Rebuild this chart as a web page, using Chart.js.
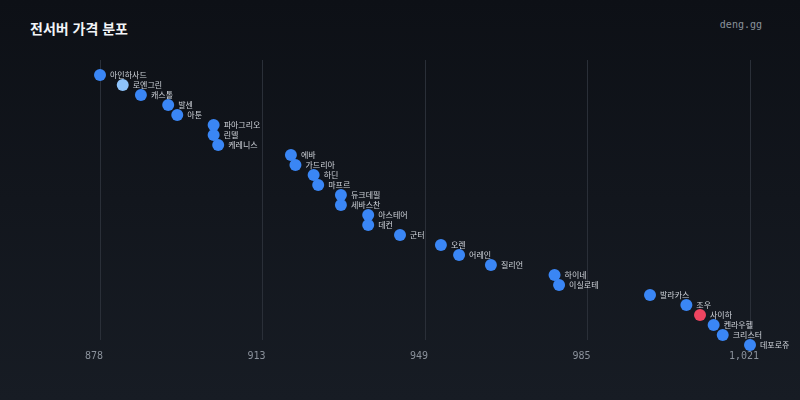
<!DOCTYPE html>
<html lang="ko">
<head>
<meta charset="utf-8">
<script src="https://cdn.jsdelivr.net/npm/chart.js@4"></script>
<style>
  html, body { margin: 0; padding: 0; }
  body {
    width: 800px; height: 400px; overflow: hidden; position: relative;
    background: linear-gradient(180deg, #0d1016 0%, #171c24 100%);
  }
  .titulo {
    position: absolute; left: 30px; top: 18px;
    font: bold 14px "Noto Sans CJK KR", "Noto Sans", sans-serif;
    color: #f2f4f7;
  }
  .marca {
    position: absolute; right: 38px; top: 19px;
    font: 10px "DejaVu Sans Mono", monospace;
    color: #8a919b;
  }
  #grafico { position: absolute; left: 0; top: 0; }
</style>
</head>
<body>
<div class="titulo">전서버 가격 분포</div>
<div class="marca">deng.gg</div>
<canvas id="grafico" width="800" height="400"></canvas>

<script>
// Servidores (de cima pra baixo) e preço
const servidores = ['아인하사드','로엔그린','캐스톨','발센','아툰','파아그리오','린델','케레니스',
                    '에바','가드리아','하딘','마프르','듀크데필','세바스찬','아스테어','데컨',
                    '군터','오렌','어레인','질리언','하이네','이실로테','발라카스','조우',
                    '사이하','켄라우헬','크리스터','데포로쥬'];
const precos     = [878, 883, 887, 893, 895, 903, 903, 904,
                    920, 921, 925, 926, 931, 931, 937, 937,
                    944, 953, 957, 964, 978, 979, 999, 1007,
                    1010, 1013, 1015, 1021];

// Ticks do eixo X
const tickMin = 878;
const tickMax = 1021;

// Destaques
const destaqueVermelho = '사이하';
const destaqueClaro    = '로엔그린';

const corPonto = servidores.map(s =>
  s === destaqueVermelho ? '#ef4560' : (s === destaqueClaro ? '#8ec3fb' : '#3a86f5'));

// rótulo ao lado de cada ponto
const rotulos = {
  id: 'rotulos',
  afterDatasetsDraw(chart) {
    const ctx = chart.ctx;
    const meta = chart.getDatasetMeta(0);
    ctx.save();
    ctx.font = '8px "Noto Sans CJK KR", sans-serif';
    ctx.fillStyle = '#d0d4db';
    ctx.textBaseline = 'middle';
    ctx.textAlign = 'left';
    meta.data.forEach((p, i) => {
      ctx.fillText(servidores[i], p.x + 10, p.y);
    });
    ctx.restore();
  }
};

new Chart(document.getElementById('grafico'), {
  type: 'scatter',
  data: {
    datasets: [{
      data: precos.map((v, i) => ({ x: v, y: i })),
      backgroundColor: corPonto,
      borderWidth: 0,
      pointRadius: 6,
      pointHoverRadius: 6,
      clip: false
    }]
  },
  options: {
    responsive: false,
    animation: false,
    layout: { padding: { left: 100, right: 50, top: 60, bottom: 28 } },
    plugins: { legend: { display: false }, tooltip: { enabled: false } },
    scales: {
      x: {
        type: 'linear',
        min: tickMin,
        max: tickMax,
        afterBuildTicks: axis => {
          const passo = (tickMax - tickMin) / 4;
          axis.ticks = [0, 1, 2, 3, 4].map(k => ({ value: tickMin + k * passo }));
        },
        grid: { color: '#2a2f38', lineWidth: 1, drawTicks: false },
        border: { display: false },
        ticks: {
          padding: 10,
          labelOffset: -6,
          color: '#8a919b',
          font: { family: '"DejaVu Sans Mono", monospace', size: 10 },
          callback: v => Math.floor(v).toLocaleString('en-US')
        }
      },
      y: {
        display: false,
        reverse: true,
        min: -1.5,
        max: 26.5
      }
    }
  },
  plugins: [rotulos]
});
</script>
</body>
</html>
